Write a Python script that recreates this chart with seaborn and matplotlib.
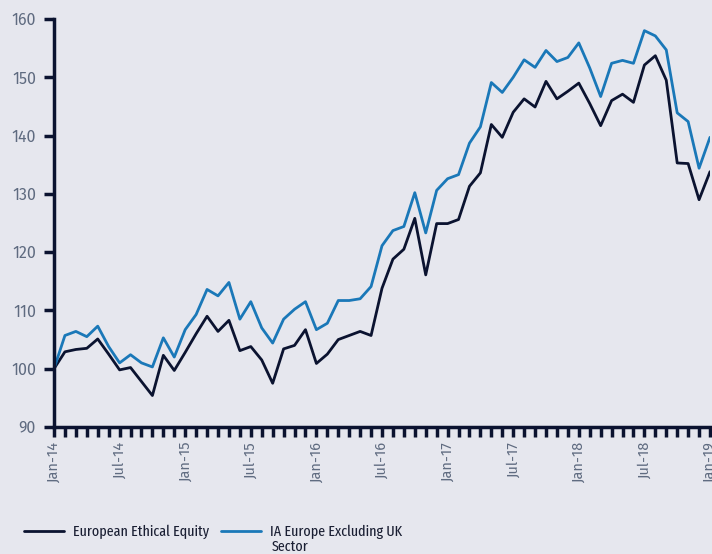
import numpy as np
import pandas as pd
import seaborn as sns
import matplotlib.pyplot as plt
from matplotlib.lines import Line2D

# monthly values, Jan-14 .. Jan-19 (rebased to 100)
ethical = [100.0, 102.9, 103.3, 103.5, 105.1, 102.5, 99.8, 100.2, 97.8, 95.4,
           102.3, 99.7, 102.8, 106.0, 109.0, 106.4, 108.3, 103.1, 103.8, 101.5,
           97.5, 103.4, 104.0, 106.7, 100.9, 102.5, 105.0, 105.7, 106.4, 105.7,
           113.8, 118.8, 120.5, 125.8, 116.1, 124.9, 124.9, 125.6, 131.3, 133.6,
           141.9, 139.7, 144.0, 146.3, 144.9, 149.3, 146.3, 147.6, 149.0, 145.5,
           141.7, 146.0, 147.1, 145.7, 152.1, 153.7, 149.5, 135.3, 135.2, 129.0,
           133.8]
sector = [100.0, 105.7, 106.4, 105.5, 107.3, 103.8, 101.0, 102.4, 101.0, 100.3,
          105.3, 102.0, 106.7, 109.3, 113.6, 112.5, 114.8, 108.5, 111.5, 107.0,
          104.4, 108.5, 110.2, 111.5, 106.7, 107.8, 111.7, 111.7, 112.0, 114.1,
          121.1, 123.7, 124.4, 130.2, 123.3, 130.6, 132.6, 133.3, 138.7, 141.5,
          149.1, 147.4, 150.0, 153.0, 151.7, 154.6, 152.7, 153.4, 155.9, 151.6,
          146.7, 152.4, 152.9, 152.4, 158.0, 157.1, 154.7, 143.9, 142.4, 134.4,
          139.7]
series_names = ["European Ethical Equity", "IA Europe Excluding UK Sector"]
tick_labels = ["Jan-14", "Jul-14", "Jan-15", "Jul-15", "Jan-16", "Jul-16",
               "Jan-17", "Jul-17", "Jan-18", "Jul-18", "Jan-19"]

months = np.arange(len(ethical))
df = pd.concat([
    pd.DataFrame({"month": months, "value": ethical, "series": series_names[0]}),
    pd.DataFrame({"month": months, "value": sector, "series": series_names[1]}),
])

bg = "#e6e7ee"
navy = "#0b1330"
blue = "#1a78b8"
label_col = "#5f6b80"
text_col = "#1a1f33"
leg_family = ["Fira Sans Extra Condensed", "Fira Sans Condensed", "Roboto", "DejaVu Sans"]

sns.set_theme(style="white", rc={"axes.facecolor": bg, "figure.facecolor": bg})
plt.rcParams["font.family"] = ["Fira Sans", "Open Sans", "DejaVu Sans"]

fig = plt.figure(figsize=(7.12, 5.54), dpi=100)
ax = fig.add_axes([54 / 712, 1 - 427 / 554, 656 / 712, 408 / 554])

sns.lineplot(data=df, x="month", y="value", hue="series",
             palette={series_names[0]: navy, series_names[1]: blue},
             linewidth=2, ax=ax, legend=False)

ax.set_xlim(0, 60)
ax.set_ylim(90, 160)
ax.set_xlabel("")
ax.set_ylabel("")
ax.set_yticks(range(90, 161, 10))
ax.set_xticks(months, minor=True)
ax.set_xticks(range(0, 61, 6))
ax.set_xticklabels(tick_labels, rotation=90)

for side in ["top", "right"]:
    ax.spines[side].set_visible(False)
for side in ["left", "bottom"]:
    ax.spines[side].set_color(navy)
    ax.spines[side].set_linewidth(2.5)

ax.tick_params(axis="y", which="major", direction="out", length=7, width=2.5,
               color=navy, labelcolor=label_col, labelsize=11.5, pad=6, left=True)
ax.tick_params(axis="x", which="both", direction="out", length=7, width=2.5,
               color=navy, bottom=True)
ax.tick_params(axis="x", which="major", labelcolor=label_col, labelsize=10.5, pad=3)

# legend: two separate entries, the second wraps onto a second line
leg_font = {"family": leg_family, "size": 11}
common = dict(loc="center left", frameon=False, prop=leg_font, handlelength=2.6,
              handletextpad=0.6, borderpad=0, borderaxespad=0, labelcolor=text_col)
fig.legend([Line2D([], [], color=navy, lw=2)], [series_names[0]],
           bbox_to_anchor=(24 / 712, 1 - 532 / 554), **common)
fig.legend([Line2D([], [], color=blue, lw=2)], ["IA Europe Excluding UK"],
           bbox_to_anchor=(221 / 712, 1 - 532 / 554), **common)
fig.text(272 / 712, 1 - 547 / 554, "Sector", fontfamily=leg_family, fontsize=11,
         color=text_col, va="center", ha="left")

fig.savefig("out.png", dpi=100, facecolor=bg)
